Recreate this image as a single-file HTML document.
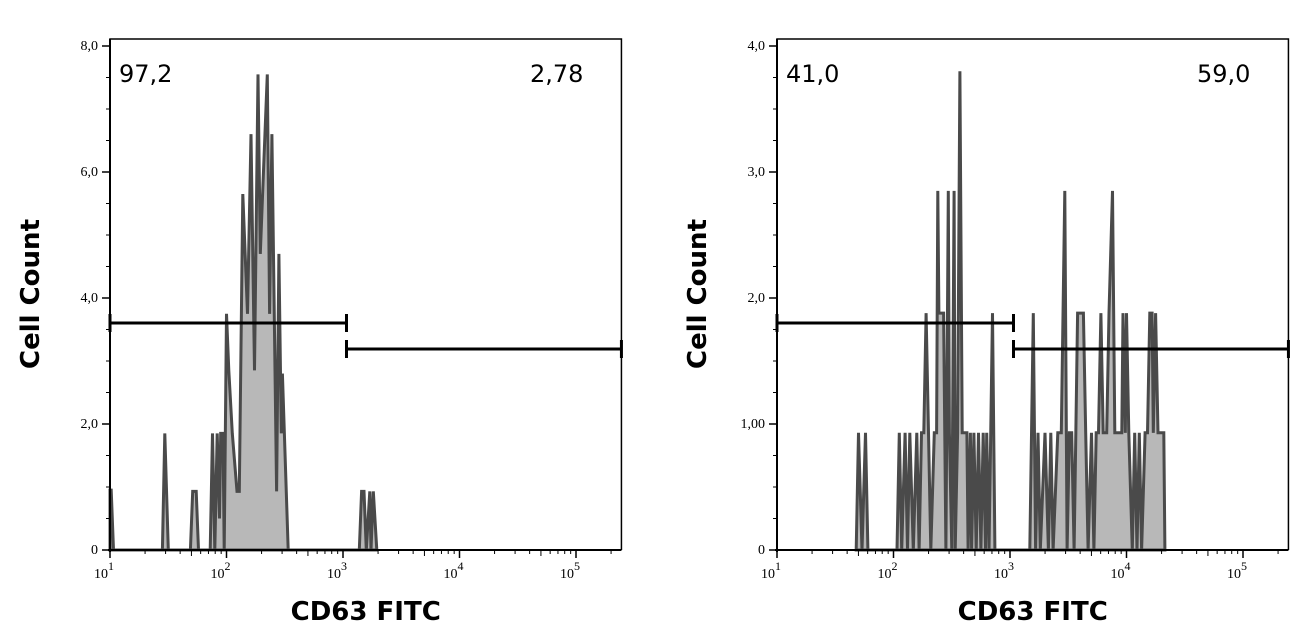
<!DOCTYPE html>
<html><head><meta charset="utf-8"><style>
body{margin:0;background:#fff;}
svg{display:block;}
.tk{font-family:"Liberation Serif",serif;font-size:14px;fill:#000;}
.ttl{font-family:"DejaVu Sans",sans-serif;font-weight:bold;font-size:26px;fill:#000;}
.pct{font-family:"DejaVu Sans",sans-serif;font-size:24px;fill:#000;}
</style></head><body>
<svg id="chart" width="1310" height="641" viewBox="0 0 1310 641"></svg>
<script>
// Left histogram (log10 FITC, count)
const leftLog=[1.00,1.01,1.03,1.45,1.47,1.50,1.69,1.71,1.74,1.76,1.86,1.88,1.90,1.92,1.94,1.95,1.97,1.98,2.00,2.02,2.05,2.09,2.11,2.14,2.18,2.21,2.24,2.27,2.29,2.31,2.35,2.37,2.39,2.43,2.45,2.47,2.48,2.53,3.14,3.16,3.18,3.20,3.23,3.24,3.26,3.29];
const leftCount=[0.95,0.95,0,0,1.85,0,0,0.93,0.93,0,0,1.85,0,1.85,0.5,1.85,1.85,0,3.75,2.85,1.85,0.93,0.93,5.65,3.75,6.6,2.85,7.55,4.7,5.65,7.55,3.75,6.6,0.93,4.7,1.85,2.8,0,0,0.93,0.93,0,0.93,0,0.93,0];
// Right histogram
const rightLog=[1.68,1.70,1.73,1.76,1.78,2.03,2.05,2.07,2.10,2.12,2.14,2.17,2.20,2.22,2.24,2.26,2.28,2.30,2.32,2.35,2.37,2.38,2.39,2.43,2.45,2.47,2.48,2.50,2.52,2.53,2.55,2.57,2.59,2.61,2.63,2.64,2.66,2.67,2.69,2.71,2.73,2.75,2.77,2.79,2.80,2.82,2.85,2.87,3.17,3.20,3.22,3.24,3.26,3.30,3.33,3.35,3.37,3.41,3.44,3.47,3.49,3.51,3.53,3.55,3.58,3.63,3.65,3.67,3.70,3.72,3.74,3.76,3.78,3.80,3.83,3.85,3.88,3.90,3.96,3.97,3.99,4.00,4.02,4.05,4.07,4.09,4.11,4.13,4.16,4.18,4.20,4.22,4.23,4.25,4.27,4.32,4.33];
const rightCount=[0,0.93,0,0.93,0,0,0.93,0,0.93,0,0.93,0,0.93,0,0.93,0.93,1.88,0.93,0,0.93,0.93,2.85,1.88,1.88,0,2.85,0.93,0,2.85,0,0.93,3.8,0.93,0.93,0.93,0,0.93,0,0.93,0,0.93,0,0.93,0,0.93,0,1.88,0,0,1.88,0,0.93,0,0.93,0,0.93,0,0.93,0.93,2.85,0,0.93,0.93,0,1.88,1.88,0.93,0,0.93,0,0.93,0.93,1.88,0.93,0.93,1.88,2.85,0.93,0.93,1.88,0.93,1.88,0.93,0,0.93,0,0.93,0,0.93,0.93,1.88,1.88,0.93,1.88,0.93,0.93,0];
const leftYTicks=[0,2,4,6,8];
const leftYLabels=["0","2,0","4,0","6,0","8,0"];
const rightYTicks=[0,1,2,3,4];
const rightYLabels=["0","1,00","2,0","3,0","4,0"];
const xDecades=[1,2,3,4,5];
const leftPcts=["97,2","2,78"];
const rightPcts=["41,0","59,0"];
const gateSplit=3.03;

const svg=document.getElementById('chart');
const NS='http://www.w3.org/2000/svg';
function mk(t,a,p){const e=document.createElementNS(NS,t);for(const k in a)e.setAttribute(k,a[k]);(p||svg).appendChild(e);return e;}

function panel(ox,logs,counts,ymax,yt,yl,minorStep,pcts,name){
  const g=mk('g',{});
  
  
  const x0=ox, dec=116.5, xMinL=1.0, xMaxL=5.39;
  const X=l=>x0+(l-1)*dec;
  const y0=550, yTop=46;
  const Y=v=>y0-(v/ymax)*(y0-yTop);
  const L=X(xMinL), R=X(xMaxL);
  // frame
  const fr=mk('path',{d:`M${L} ${y0}V39H${R}V${y0}`,fill:'none',stroke:'#000','stroke-width':1.5},g);
  
  
  // histogram
  let pts=[[X(logs[0]),y0]];
  for(let i=0;i<logs.length;i++)pts.push([X(logs[i]),Y(counts[i])]);
  pts.push([X(logs[logs.length-1]),y0]);
  const d='M'+pts.map(p=>p[0].toFixed(1)+' '+p[1].toFixed(1)).join('L');
  const h=mk('path',{d:d+'Z',fill:'#b8b8b8',stroke:'#4a4a4a','stroke-width':3,'stroke-linejoin':'miter'},g);
  
  
  // axes
  const ax=mk('path',{d:`M${L} 39V${y0+2}M${L-2} ${y0}H${R}`,stroke:'#000','stroke-width':2,fill:'none'},g);
  
  
  // y ticks
  for(let v=0;v<=ymax+1e-9;v+=minorStep){mk('line',{x1:L-4,x2:L,y1:Y(v),y2:Y(v),stroke:'#000','stroke-width':1},g);}
  yt.forEach((v,i)=>{mk('line',{x1:L-8,x2:L,y1:Y(v),y2:Y(v),stroke:'#000','stroke-width':1.5},g);
    const t=mk('text',{x:L-12,y:Y(v)+4,'text-anchor':'end',class:'tk'},g);t.textContent=yl[i];
    });
  // x ticks
  for(let d2=0;d2<=5;d2++)for(let m=1;m<10;m++){const l=d2+Math.log10(m);if(l<xMinL||l>xMaxL)continue;
    mk('line',{x1:X(l),x2:X(l),y1:y0,y2:y0+(m==1?8:(m==5?6:4)),stroke:'#000','stroke-width':m==1?1.5:1},g);}
  xDecades.forEach(dd=>{const t=mk('text',{x:X(dd)-16,y:y0+28,class:'tk'},g);
    
    const a=mk('tspan',{},t);a.textContent='10';
    const b=mk('tspan',{dy:-8,'font-size':'12px'},t);b.textContent=String(dd);});
  // gates
  const gy1=323, gy2=349, gs=X(gateSplit);
  const g1=mk('path',{d:`M${L} ${gy1}H${gs}M${L} ${gy1-9}V${gy1+9}M${gs} ${gy1-9}V${gy1+9}`,stroke:'#000','stroke-width':3,fill:'none'},g);
  
  const g2=mk('path',{d:`M${gs} ${gy2}H${R}M${gs} ${gy2-9}V${gy2+9}M${R} ${gy2-9}V${gy2+9}`,stroke:'#000','stroke-width':3,fill:'none'},g);
  
  // percentages
  const p1=mk('text',{x:L+9,y:82,class:'pct'},g);p1.textContent=pcts[0];
  
  const p2=mk('text',{x:R-38,y:82,class:'pct','text-anchor':'end'},g);p2.textContent=pcts[1];
  
  // titles
  const yt2=mk('text',{x:0,y:0,class:'ttl','text-anchor':'middle',transform:`translate(${ox-71},294) rotate(-90)`},g);
  yt2.textContent='Cell Count';
  const xt=mk('text',{x:(L+R)/2,y:620,class:'ttl','text-anchor':'middle'},g);
  xt.textContent='CD63 FITC';
}
panel(110,leftLog,leftCount,8,leftYTicks,leftYLabels,0.5,leftPcts,'left-histogram-panel');
panel(777,rightLog,rightCount,4,rightYTicks,rightYLabels,0.25,rightPcts,'right-histogram-panel');
</script>
</body></html>
